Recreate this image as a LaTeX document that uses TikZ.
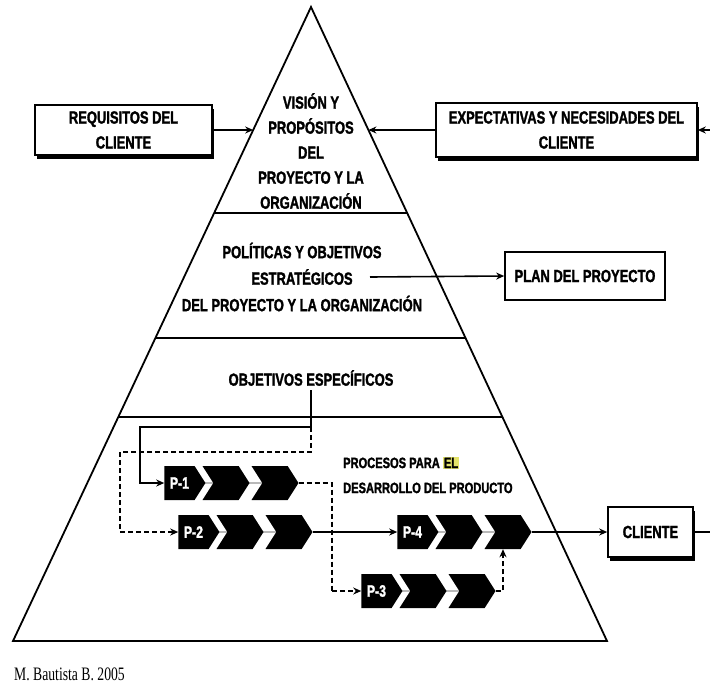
\documentclass[tikz,border=0pt]{standalone}
\usepackage{fontspec}
\setmainfont{Liberation Sans}[FakeStretch=0.74, BoldFeatures={FakeBold=1.6}]
\newfontfamily\authorfont{Liberation Serif}[FakeStretch=0.72]
\usetikzlibrary{arrows.meta,shapes.symbols,shadows,calc,backgrounds}
\definecolor{hlyellow}{HTML}{E4E36A}

\tikzset{
  edge/.style={line width=1.8pt, line join=miter},
  lbl/.style={font=\fontsize{17.5}{25}\selectfont\bfseries, align=center, inner sep=0pt},
  box/.style={draw, line width=1.6pt, fill=white, inner sep=0pt, align=center,
    font=\fontsize{17.5}{25}\selectfont\bfseries},
  shadowbox/.style={box, drop shadow={shadow xshift=2pt, shadow yshift=-4pt, opacity=1, fill=black}},
  arr/.style={line width=1.6pt, -{Stealth[length=8pt,width=7pt]}},
  dasharr/.style={arr, dash pattern=on 5pt off 3pt},
  dashline/.style={line width=1.6pt, dash pattern=on 5pt off 3pt},
  pstart/.style={signal, signal from=nowhere, signal to=east, signal pointer angle=115,
    fill=black, draw=none, inner sep=0pt, minimum height=34pt, minimum width=41pt,
    text=white, font=\fontsize{16.5}{16.5}\selectfont\bfseries},
  pchev/.style={pstart, signal from=west, minimum width=47pt},
  link/.style={gray!55, line width=1.2pt}
}

% a process chain: a labelled start block and two chevrons
\newcommand{\procchain}[4]{%
  \node[pstart] (#1a) at (#2+20.5,#3) {#4};
  \node[pchev]  (#1b) at (#2+67,#3) {};
  \node[pchev]  (#1c) at (#2+116,#3) {};
  \begin{pgfonlayer}{background}
    \draw[link] (#1a.center) -- (#1c.center);
  \end{pgfonlayer}
}

\begin{document}
\begin{tikzpicture}[x=1pt,y=-1pt]
\useasboundingbox (0,0) rectangle (710,683);

% pyramid
\coordinate (apex) at (311,7);
\coordinate (bl) at (13,641);
\coordinate (br) at (607,641);
\draw[edge] (bl) -- (apex) -- (br) -- cycle;
\draw[edge] ($(apex)!0.3249!(bl)$) -- ($(apex)!0.3249!(br)$);
\draw[edge] ($(apex)!0.5221!(bl)$) -- ($(apex)!0.5221!(br)$);
\draw[edge] ($(apex)!0.6467!(bl)$) -- ($(apex)!0.6467!(br)$);

% levels of the pyramid
\node[lbl] (vision) at (311,151) {VISIÓN Y\\PROPÓSITOS\\DEL\\PROYECTO Y LA\\ORGANIZACIÓN};
\node[lbl, font=\fontsize{17.5}{26.5}\selectfont\bfseries] (pol) at (302,277)
  {POLÍTICAS Y OBJETIVOS\\ESTRATÉGICOS\\DEL PROYECTO Y LA ORGANIZACIÓN};
\node[lbl] (obj) at (311,378) {OBJETIVOS ESPECÍFICOS};
\node[lbl, align=left, anchor=west, font=\fontsize{15}{25}\selectfont\bfseries] (proc) at (343,475)
  {PROCESOS PARA {\setlength{\fboxsep}{1pt}\colorbox{hlyellow}{EL}}\\DESARROLLO DEL PRODUCTO};

% side boxes
\node[shadowbox, minimum width=177pt, minimum height=50pt] (req) at (123.5,130) {REQUISITOS DEL\\CLIENTE};
\node[shadowbox, minimum width=261pt, minimum height=54pt] (exp) at (566.5,130) {EXPECTATIVAS Y NECESIDADES DEL\\CLIENTE};
\node[box, minimum width=160pt, minimum height=48pt] (plan) at (585,276) {PLAN DEL PROYECTO};
\node[shadowbox, minimum width=85pt, minimum height=50pt] (cliente) at (650.5,532) {CLIENTE};

% inputs to the vision
\coordinate (visl) at ($(apex)!0.194!(bl)$);
\coordinate (visr) at ($(apex)!0.194!(br)$);
\coordinate (expin) at (710,130);
\draw[arr] (req.east) -- (visl);
\draw[arr] (exp.west) -- (visr);
\draw[arr] (expin) -- (exp.east);

% strategy to plan
\coordinate (polout) at (370,277);
\draw[arr] (polout) -- (plan.west);

% process chains
\procchain{p1}{159}{483}{P-1}
\procchain{p2}{173}{532}{P-2}
\procchain{p4}{392}{532}{P-4}
\procchain{p3}{356}{591}{P-3}

% flows between processes
\coordinate (split) at (311,427);
\draw[line width=1.6pt] ([yshift=-4pt]obj.south) -- (split);
\draw[arr] (split) -| ([xshift=-24pt]p1a.west) -- (p1a.west);
\draw[dashline] (split) -- ++(0,25) -| ([xshift=-58pt]p2a.west);
\draw[dasharr] ([xshift=-58pt]p2a.west) -- (p2a.west);
\draw[dashline] (p1c.east) -| ([xshift=-29pt]p3a.west);
\draw[dasharr] ([xshift=-29pt]p3a.west) -- (p3a.west);
\draw[arr] (p2c.east) -- (p4a.west);
\draw[dasharr] (p3c.east) -| ([xshift=-5pt]p4c.south);
\draw[arr] (p4c.east) -- (cliente.west);
\coordinate (out) at (710,532);
\draw[line width=1.6pt] (cliente.east) -- (out);

% author
\node[anchor=west, inner sep=0pt, font=\authorfont\fontsize{19}{19}\selectfont] (author) at (14,674) {M. Bautista B. 2005};
\end{tikzpicture}
\end{document}
